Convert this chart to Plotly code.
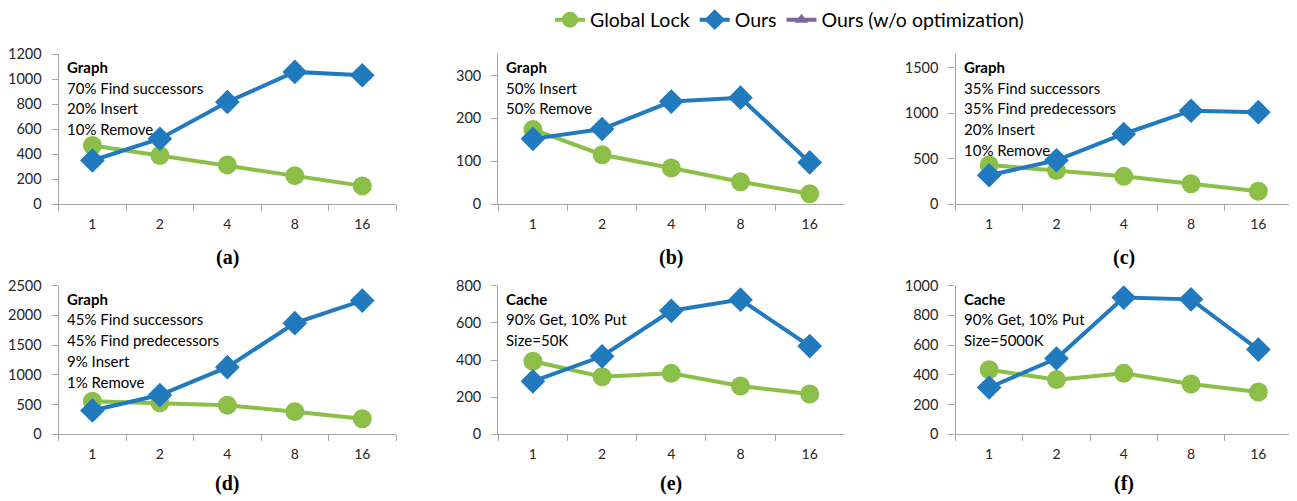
import plotly.graph_objects as go

W, H = 1297, 501
OFF = 8  # default page body margin

threads = ["1", "2", "4", "8", "16"]

gl_a = [468, 388, 313, 227, 145]
ours_a = [348, 522, 816, 1057, 1030]
gl_b = [174, 115, 84, 52, 24]
ours_b = [152, 175, 239, 248, 97]
gl_c = [430, 368, 304, 222, 140]
ours_c = [316, 481, 770, 1026, 1010]
gl_d = [555, 530, 490, 381, 262]
ours_d = [400, 660, 1130, 1870, 2250]
gl_e = [393, 310, 328, 260, 217]
ours_e = [285, 420, 665, 725, 475]
gl_f = [435, 368, 410, 338, 285]
ours_f = [315, 510, 920, 908, 570]

y_ranges = [1200, 350, 1650, 2500, 800, 1000]
y_dtick = [200, 100, 500, 500, 200, 200]
captions = ["(a)", "(b)", "(c)", "(d)", "(e)", "(f)"]
notes = [
    ["Graph", "70% Find successors", "20% Insert", "10% Remove"],
    ["Graph", "50% Insert", "50% Remove"],
    ["Graph", "35% Find successors", "35% Find predecessors", "20% Insert", "10% Remove"],
    ["Graph", "45% Find successors", "45% Find predecessors", "9% Insert", "1% Remove"],
    ["Cache", "90% Get, 10% Put", "Size=50K"],
    ["Cache", "90% Get, 10% Put", "Size=5000K"],
]
gl_all = [gl_a, gl_b, gl_c, gl_d, gl_e, gl_f]
ours_all = [ours_a, ours_b, ours_c, ours_d, ours_e, ours_f]

GREEN = "#8CBF47"
BLUE = "#2179BE"
PURPLE = "#8064A2"
FONT = "Lato"

# pixel geometry of plot areas (page pixels), converted to figure pixels
cols_px = [(58.7 - OFF, 396 - OFF), (498.3 - OFF, 844.3 - OFF), (955.5 - OFF, 1292 - OFF)]
rows_px = [(54 - OFF, 204 - OFF), (285.7 - OFF, 434.3 - OFF)]
caption_y = [257 - OFF, 483.3 - OFF]

fig = go.Figure()
for i in range(6):
    xa = "x" if i == 0 else f"x{i+1}"
    ya = "y" if i == 0 else f"y{i+1}"
    fig.add_trace(go.Scatter(
        x=threads, y=gl_all[i], xaxis=xa, yaxis=ya, mode="lines+markers",
        name="Global Lock", legendgroup="gl", showlegend=(i == 0),
        line=dict(color=GREEN, width=4), marker=dict(symbol="circle", size=19, color=GREEN)))
    fig.add_trace(go.Scatter(
        x=threads, y=ours_all[i], xaxis=xa, yaxis=ya, mode="lines+markers",
        name="Ours", legendgroup="ours", showlegend=(i == 0),
        line=dict(color=BLUE, width=4), marker=dict(symbol="diamond", size=19, color=BLUE)))
fig.add_trace(go.Scatter(
    x=[None], y=[None], mode="lines+markers", name="Ours (w/o optimization)",
    line=dict(color=PURPLE, width=4), marker=dict(symbol="triangle-up", size=12, color=PURPLE)))

layout = {}
for i in range(6):
    r, c = divmod(i, 3)
    x0, x1 = cols_px[c]
    y0, y1 = rows_px[r]
    xk = "xaxis" if i == 0 else f"xaxis{i+1}"
    yk = "yaxis" if i == 0 else f"yaxis{i+1}"
    ya = "y" if i == 0 else f"y{i+1}"
    xa = "x" if i == 0 else f"x{i+1}"
    layout[xk] = dict(domain=[x0 / W, x1 / W], anchor=ya, type="category",
                      categoryorder="array", categoryarray=threads,
                      range=[-0.5, 4.5], showline=True, linecolor="#A6A6A6", linewidth=1.3,
                      ticks="outside", tickson="boundaries", ticklen=6, tickcolor="#A6A6A6",
                      ticklabelstandoff=7,
                      showgrid=False, tickfont=dict(family=FONT, size=14, color="#262626"),
                      zeroline=False, fixedrange=True)
    layout[yk] = dict(domain=[1 - y1 / H, 1 - y0 / H], anchor=xa, range=[0, y_ranges[i]],
                      dtick=y_dtick[i], tick0=0, showline=True, linecolor="#A6A6A6",
                      linewidth=1.3, ticks="outside", ticklen=6, tickcolor="#A6A6A6",
                      ticklabelstandoff=7,
                      showgrid=False, zeroline=False,
                      tickfont=dict(family=FONT, size=14.5, color="#262626"), fixedrange=True)

annotations = []
for i in range(6):
    r, c = divmod(i, 3)
    x0, x1 = cols_px[c]
    y0, y1 = rows_px[r]
    for j, line in enumerate(notes[i]):
        annotations.append(dict(
            x=(x0 + 6) / W, y=1 - (y0 + 13 + j * 20.7) / H, xref="paper", yref="paper",
            xanchor="left", yanchor="middle", showarrow=False,
            text=f"<b>{line}</b>" if j == 0 else line,
            font=dict(family=FONT, size=15, color="#000000")))
    annotations.append(dict(
        x=(x0 + x1) / 2 / W, y=1 - caption_y[r] / H, xref="paper", yref="paper",
        xanchor="center", yanchor="middle", showarrow=False, text=f"<b>{captions[i]}</b>",
        font=dict(family="Liberation Serif", size=20, color="#000000")))

fig.update_layout(
    width=W, height=H, margin=dict(l=0, r=0, t=0, b=0, autoexpand=False),
    plot_bgcolor="white", paper_bgcolor="white",
    legend=dict(orientation="h", x=(590 - OFF - 40) / W, xanchor="left",
                y=1 - 12 / H, yanchor="middle",
                font=dict(family=FONT, size=19.5, color="#000000"), itemwidth=30,
                tracegroupgap=0, bgcolor="rgba(0,0,0,0)"),
    annotations=annotations, showlegend=True,
    **layout)

fig.write_html("out.html")
